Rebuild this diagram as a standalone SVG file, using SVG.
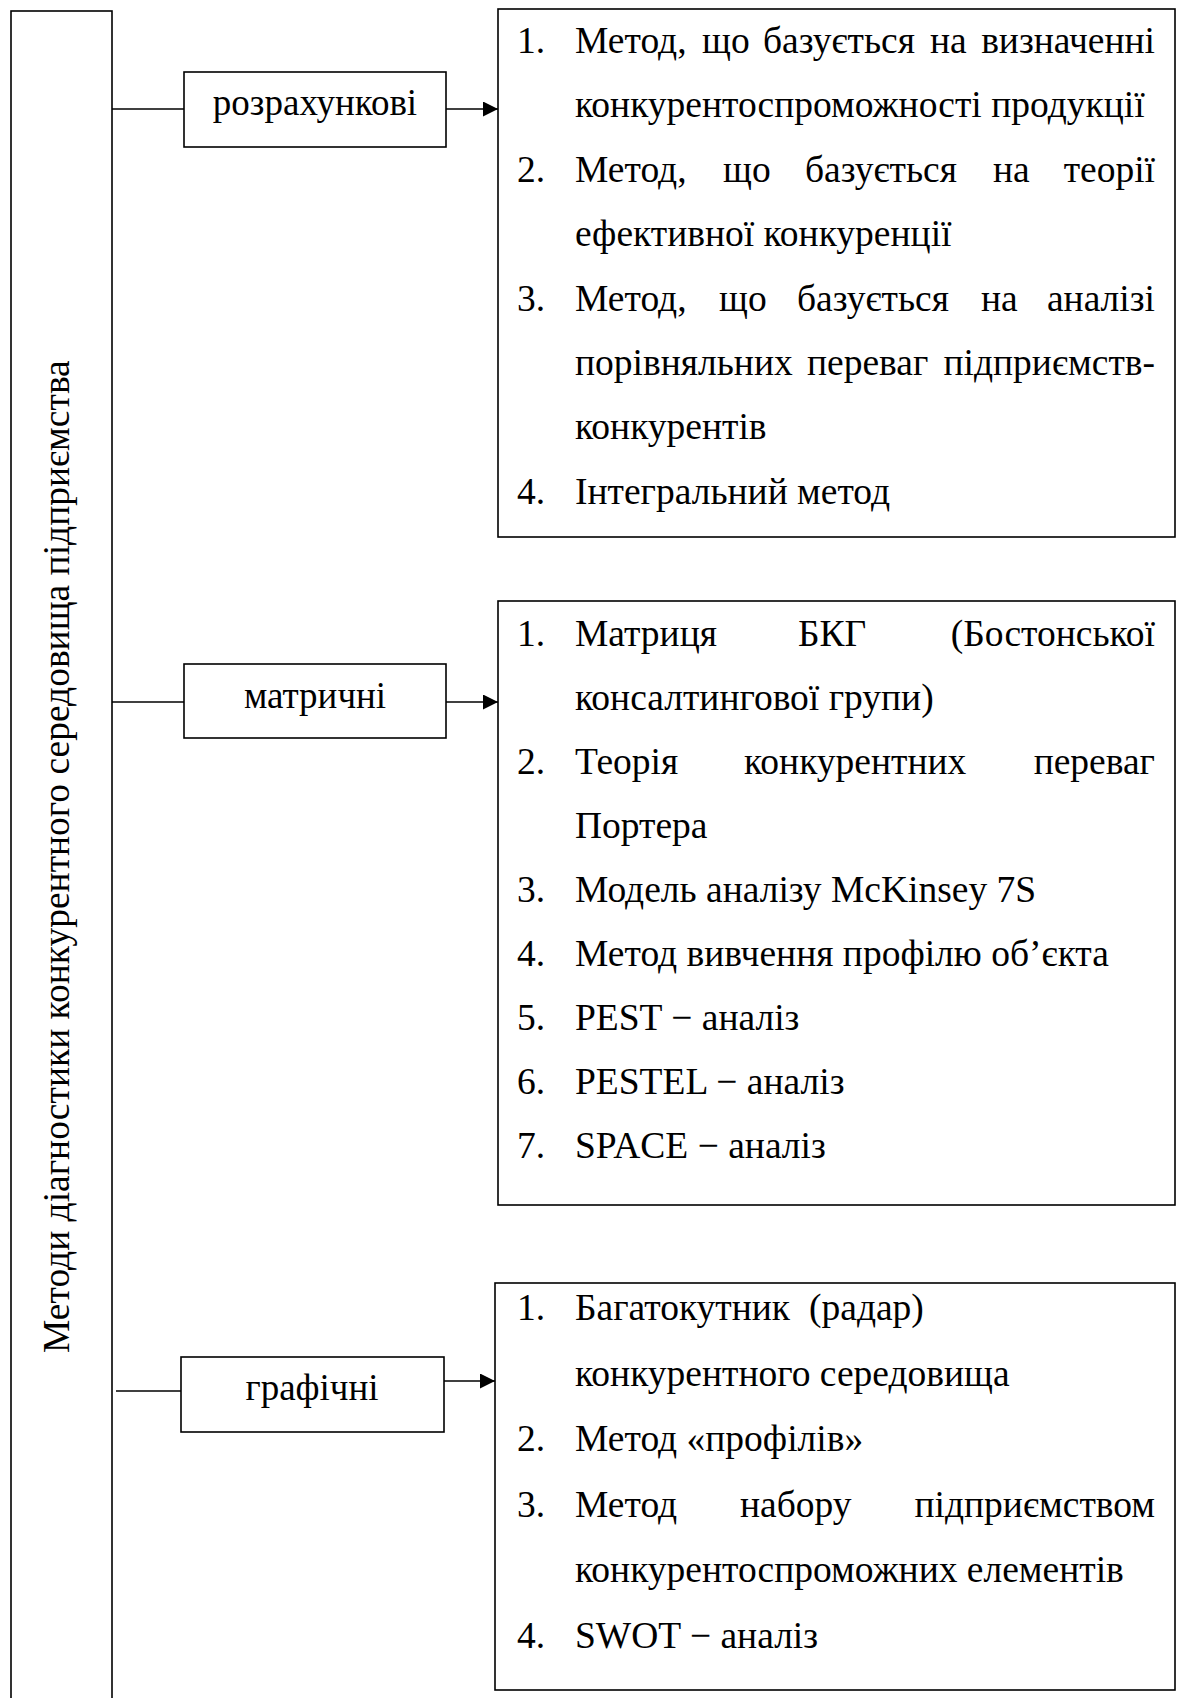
<svg xmlns="http://www.w3.org/2000/svg" width="1181" height="1698" viewBox="0 0 1181 1698">
<style>
.b{fill:#fff;stroke:#000;stroke-width:1.6}
.c{stroke:#000;stroke-width:1.6;fill:none}
text{font-family:"Liberation Serif","Times New Roman",serif;font-size:37.5px;fill:#000}
.lbl{font-size:37px}
.m{text-anchor:middle}
.e{text-anchor:end}
</style>
<defs>
<marker id="ah" markerUnits="userSpaceOnUse" markerWidth="15" markerHeight="15" refX="15" refY="7.5" orient="auto"><path d="M0,0 L15,7.5 L0,15 Z" fill="#000"/></marker>
</defs>
<rect x="0" y="0" width="1181" height="1698" fill="#fff"/>

<g id="root">
<rect class="b" x="11" y="11" width="101" height="1700"/>
<text transform="translate(69,1353) rotate(-90)">Методи діагностики конкурентного середовища підприємства</text>
</g>

<g id="connectors">
<line class="c" x1="112" y1="109" x2="184" y2="109"/>
<line class="c" x1="446" y1="109" x2="498" y2="109" marker-end="url(#ah)"/>
<line class="c" x1="112" y1="702" x2="184" y2="702"/>
<line class="c" x1="446" y1="702" x2="498" y2="702" marker-end="url(#ah)"/>
<line class="c" x1="116" y1="1391" x2="181" y2="1391"/>
<line class="c" x1="444" y1="1381" x2="495" y2="1381" marker-end="url(#ah)"/>
</g>

<g id="n-rozrakhunkovi">
<rect class="b" x="184" y="72" width="262" height="75"/>
<text class="m lbl" x="315" y="115">розрахункові</text>
</g>

<g id="n-matrychni">
<rect class="b" x="184" y="664" width="262" height="74"/>
<text class="m lbl" x="315" y="708">матричні</text>
</g>

<g id="n-hrafichni">
<rect class="b" x="181" y="1357" width="263" height="75"/>
<text class="m lbl" x="312" y="1400">графічні</text>
</g>

<g id="list-rozrakhunkovi">
<rect class="b" x="498" y="9" width="677" height="528"/>
<text y="53"><tspan x="517">1.</tspan><tspan x="575">Метод,</tspan><tspan x="702">що</tspan><tspan x="763">базується</tspan><tspan x="930">на</tspan></text>
<text class="e" x="1155" y="53">визначенні</text>
<text x="575" y="117">конкурентоспроможності продукції</text>
<text y="182"><tspan x="517">2.</tspan><tspan x="575">Метод,</tspan><tspan x="723">що</tspan><tspan x="805">базується</tspan><tspan x="993">на</tspan></text>
<text class="e" x="1155" y="182">теорії</text>
<text x="575" y="246">ефективної конкуренції</text>
<text y="311"><tspan x="517">3.</tspan><tspan x="575">Метод,</tspan><tspan x="719">що</tspan><tspan x="797">базується</tspan><tspan x="981">на</tspan></text>
<text class="e" x="1155" y="311">аналізі</text>
<text y="375"><tspan x="575">порівняльних</tspan><tspan x="807">переваг</tspan></text>
<text class="e" x="1155" y="375">підприємств-</text>
<text x="575" y="439">конкурентів</text>
<text y="504"><tspan x="517">4.</tspan><tspan x="575">Інтегральний метод</tspan></text>
</g>

<g id="list-matrychni">
<rect class="b" x="498" y="601" width="677" height="604"/>
<text y="646"><tspan x="517">1.</tspan><tspan x="575">Матриця</tspan><tspan x="798">БКГ</tspan></text>
<text class="e" x="1155" y="646">(Бостонської</text>
<text x="575" y="710">консалтингової групи)</text>
<text y="774"><tspan x="517">2.</tspan><tspan x="575">Теорія</tspan><tspan x="744">конкурентних</tspan></text>
<text class="e" x="1155" y="774">переваг</text>
<text x="575" y="838">Портера</text>
<text y="902"><tspan x="517">3.</tspan><tspan x="575">Модель аналізу McKinsey 7S</tspan></text>
<text y="966"><tspan x="517">4.</tspan><tspan x="575">Метод вивчення профілю об’єкта</tspan></text>
<text y="1030"><tspan x="517">5.</tspan><tspan x="575">PEST − аналіз</tspan></text>
<text y="1094"><tspan x="517">6.</tspan><tspan x="575">PESTEL − аналіз</tspan></text>
<text y="1158"><tspan x="517">7.</tspan><tspan x="575">SPACE − аналіз</tspan></text>
</g>

<g id="list-hrafichni">
<rect class="b" x="495" y="1283" width="680" height="407"/>
<text y="1320"><tspan x="517">1.</tspan><tspan x="575">Багатокутник</tspan><tspan x="809">(радар)</tspan></text>
<text x="575" y="1386">конкурентного середовища</text>
<text y="1451"><tspan x="517">2.</tspan><tspan x="575">Метод «профілів»</tspan></text>
<text y="1517"><tspan x="517">3.</tspan><tspan x="575">Метод</tspan><tspan x="740">набору</tspan></text>
<text class="e" x="1155" y="1517">підприємством</text>
<text x="575" y="1582">конкурентоспроможних елементів</text>
<text y="1648"><tspan x="517">4.</tspan><tspan x="575">SWOT − аналіз</tspan></text>
</g>
</svg>
